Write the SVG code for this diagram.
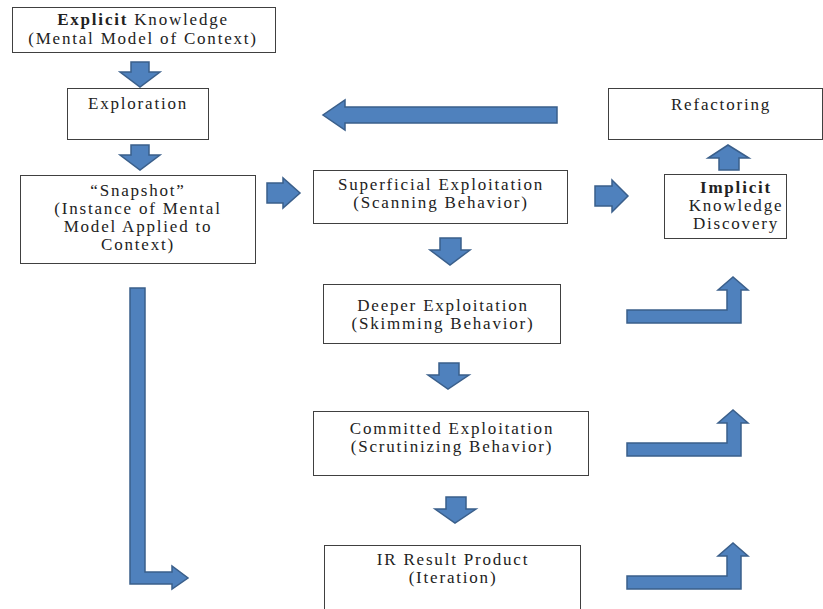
<svg xmlns="http://www.w3.org/2000/svg" width="823" height="609" viewBox="0 0 823 609">
<style>
.box{fill:#fff;stroke:#404040;stroke-width:1}
.t{font-family:"Liberation Serif","Times New Roman",serif;font-size:17px;letter-spacing:1.8px;fill:#222;text-anchor:middle}
.b{font-weight:bold}
.ar{fill:#4f81bd;stroke:#3a5f8b;stroke-width:1.5;stroke-linejoin:miter}
</style>
<rect width="823" height="609" fill="#fff"/>
<g id="explicit"><rect class="box" x="12.5" y="7.5" width="263" height="45"/>
<text class="t" y="25"><tspan x="143"><tspan class="b">Explicit</tspan> Knowledge</tspan><tspan x="143" dy="19">(Mental Model of Context)</tspan></text></g>
<g id="exploration"><rect class="box" x="67.5" y="88.5" width="141" height="51"/>
<text class="t" x="138" y="109">Exploration</text></g>
<g id="snapshot"><rect class="box" x="20.5" y="175.5" width="235" height="88"/>
<text class="t" y="196"><tspan x="138">“Snapshot”</tspan><tspan x="138" dy="18">(Instance of Mental</tspan><tspan x="138" dy="18">Model Applied to</tspan><tspan x="138" dy="18">Context)</tspan></text></g>
<g id="superficial"><rect class="box" x="313.5" y="170.5" width="254" height="53"/>
<text class="t" y="190"><tspan x="441">Superficial Exploitation</tspan><tspan x="441" dy="18">(Scanning Behavior)</tspan></text></g>
<g id="refactoring"><rect class="box" x="608.5" y="88.5" width="214" height="51"/>
<text class="t" x="721" y="110">Refactoring</text></g>
<g id="implicit"><rect class="box" x="664.5" y="174.5" width="122" height="64"/>
<text class="t" y="193"><tspan x="736" class="b">Implicit</tspan><tspan x="736" dy="18">Knowledge</tspan><tspan x="736" dy="18">Discovery</tspan></text></g>
<g id="deeper"><rect class="box" x="323.5" y="284.5" width="237" height="59"/>
<text class="t" y="311"><tspan x="443">Deeper Exploitation</tspan><tspan x="443" dy="18">(Skimming Behavior)</tspan></text></g>
<g id="committed"><rect class="box" x="313.5" y="411.5" width="275" height="64"/>
<text class="t" y="434"><tspan x="452">Committed Exploitation</tspan><tspan x="452" dy="18">(Scrutinizing Behavior)</tspan></text></g>
<g id="result"><rect class="box" x="324.5" y="545.5" width="256" height="70"/>
<text class="t" y="565"><tspan x="453">IR Result Product</tspan><tspan x="453" dy="18">(Iteration)</tspan></text></g>
<g id="connectors">
<polygon class="ar" points="131,62 149,62 149,72 160,72 140,87 120,72 131,72"/>
<polygon class="ar" points="131,145 149,145 149,155 160,155 140,170 120,155 131,155"/>
<polygon class="ar" points="267,183 283,183 283,178 300,193 283,208 283,203 267,203"/>
<polygon class="ar" points="557,107 557,123 345,123 345,130 323,115 345,100 345,107"/>
<polygon class="ar" points="595,186 612,186 612,180 628,196 612,212 612,206 595,206"/>
<polygon class="ar" points="440,238 461,238 461,250 470,250 450,265 430,250 440,250"/>
<polygon class="ar" points="719,170 739,170 739,158 749,158 728,145 708,158 719,158"/>
<polygon class="ar" points="439,363 459,363 459,375 469,375 448,389 428,375 439,375"/>
<polygon class="ar" points="446,497 466,497 466,509 476,509 455,523 435,509 446,509"/>
<polygon class="ar" points="130,288 145,288 145,572 172,572 172,566 188,578 172,589 172,584 130,584"/>
<polygon class="ar" points="627,310 727,310 727,290 718,290 733,277 748,290 741,290 741,323 627,323"/>
<polygon class="ar" points="627,443 727,443 727,423 718,423 733,410 748,423 741,423 741,456 627,456"/>
<polygon class="ar" points="627,576 727,576 727,556 718,556 733,543 748,556 741,556 741,589 627,589"/>
</g>
</svg>
